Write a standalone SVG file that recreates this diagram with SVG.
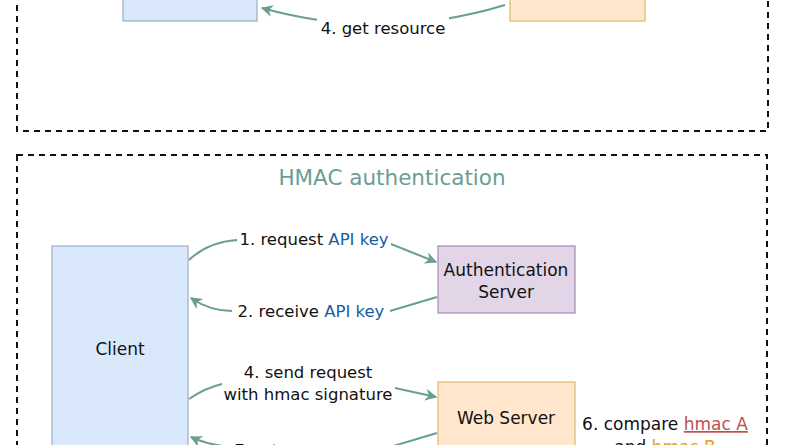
<svg xmlns="http://www.w3.org/2000/svg" width="791" height="445" viewBox="0 0 791 445">
<defs>
<style>
text{font-family:"DejaVu Sans","Noto Sans",sans-serif;fill:#111;}
.lbl{font-size:16.5px;text-anchor:middle;}
.node{font-size:17px;text-anchor:middle;}
.frame{fill:none;stroke:#111;stroke-width:2;stroke-dasharray:6 5;}
.edge{fill:none;stroke:#6a9e92;stroke-width:2;}
.bg{fill:#fff;}
.blue{fill:#1a5c9e;}
</style>
<marker id="ah" viewBox="0 0 10 10" refX="9" refY="5" markerWidth="6" markerHeight="6" orient="auto" markerUnits="strokeWidth">
<path d="M0,0 L10,5 L0,10 L3,5 z" fill="#6a9e92"/>
</marker>
</defs>
<rect width="791" height="445" fill="#fff"/>
<g id="frame-top"><rect class="frame" x="17" y="-40" width="751" height="171"/></g>
<g id="frame-hmac"><rect class="frame" x="17" y="155" width="750" height="320"/>
<text x="392" y="185" style="font-size:21.5px;fill:#6a9e94;text-anchor:middle">HMAC authentication</text></g>
<g id="connectors">
<path class="edge" d="M505 5 Q383 42 262 8" marker-end="url(#ah)"/>
<path class="edge" d="M189 260 Q208 242 237 240 L391 244 L436 262" marker-end="url(#ah)"/>
<path class="edge" d="M437 297 L390 311 L232 311 Q210 311 191 298" marker-end="url(#ah)"/>
<path class="edge" d="M189 399 Q205 388 222 384 L395 388 L436 397" marker-end="url(#ah)"/>
<path class="edge" d="M437 433 L390 447 L235 447 Q210 446 191 437" marker-end="url(#ah)"/>
<rect class="bg" x="317" y="17" width="132" height="22"/>
<text class="lbl" x="383" y="34">4. get resource</text>
<rect class="bg" x="237" y="230" width="154" height="20"/>
<text class="lbl" x="314" y="245">1. request <tspan class="blue">API key</tspan></text>
<rect class="bg" x="232" y="301" width="158" height="20"/>
<text class="lbl" x="311" y="317">2. receive <tspan class="blue">API key</tspan></text>
<rect class="bg" x="222" y="362" width="173" height="42"/>
<text class="lbl" x="308" y="378">4. send request</text>
<text class="lbl" x="308" y="400">with hmac signature</text>
<rect class="bg" x="240" y="440" width="140" height="20"/>
<text class="lbl" x="310" y="456">7. return response</text>
</g>
<g id="client"><rect x="52" y="246" width="136" height="230" fill="#dae8fc" stroke="#9aaccc" stroke-width="1.2"/>
<text class="node" x="120" y="355">Client</text></g>
<g id="client-top"><rect x="123" y="-60" width="134" height="81" fill="#dae8fc" stroke="#9aaccc" stroke-width="1.2"/></g>
<g id="server-top"><rect x="510" y="-60" width="135" height="81" fill="#ffe6cc" stroke="#e0b870" stroke-width="1.2"/></g>
<g id="auth-server"><rect x="438" y="246" width="137" height="67" fill="#e1d5e7" stroke="#a48bb3" stroke-width="1.2"/>
<text class="node" x="506" y="276">Authentication</text>
<text class="node" x="506" y="298">Server</text></g>
<g id="web-server"><rect x="438" y="382" width="137" height="90" fill="#ffe6cc" stroke="#e0b870" stroke-width="1.2"/>
<text class="node" x="506" y="424">Web Server</text></g>
<g id="compare-note">
<text class="lbl" x="665" y="430" style="font-size:17px">6. compare <tspan style="fill:#c0504d;text-decoration:underline">hmac A</tspan></text>
<text class="lbl" x="665" y="453" style="font-size:17px">and <tspan style="fill:#e6a020;text-decoration:underline">hmac B</tspan></text>
</g>
</svg>
